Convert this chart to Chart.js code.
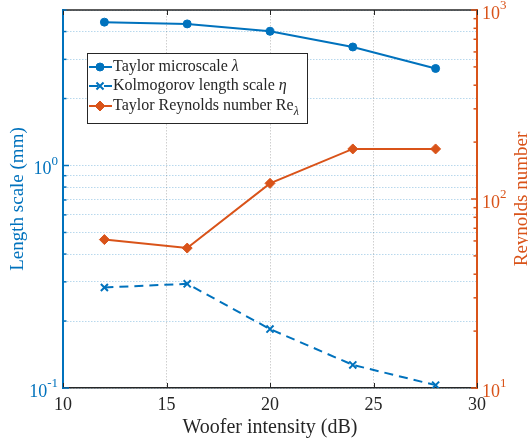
<!DOCTYPE html>
<html>
<head>
<meta charset="utf-8">
<script src="https://cdn.jsdelivr.net/npm/chart.js@4.4.1/dist/chart.umd.min.js"></script>
<style>
  html, body { margin: 0; padding: 0; background: #fff; }
  canvas { display: block; }
</style>
</head>
<body>
<canvas id="chart" width="528" height="441"></canvas>
<script>
// --- data ---
const intensity = [12, 16, 20, 24, 28];                  // dB
const taylorMicroscale = [4.41, 4.33, 4.01, 3.41, 2.73];  // mm
const kolmogorovScale = [0.283, 0.294, 0.184, 0.127, 0.103]; // mm
const taylorReynolds = [61, 55, 121, 184, 184];

const xTicks = [10, 15, 20, 25, 30];
const leftTicks = [0.1, 0.2, 0.3, 0.4, 0.5, 0.6, 0.7, 0.8, 0.9, 1, 2, 3, 4, 5];
const rightTicks = [10, 20, 30, 40, 50, 60, 70, 80, 90, 100, 200, 300, 400, 500, 600, 700, 800, 900, 1000];
const leftDecades = [-1, 0];
const rightDecades = [1, 2, 3];

// legend text pieces: [text, style] where style is '' | 'i' (italic) | 'sub'
const legendLabels = [
  [['Taylor microscale ', ''], ['\u03bb', 'i']],
  [['Kolmogorov length scale ', ''], ['\u03b7', 'i']],
  [['Taylor Reynolds number Re', ''], ['\u03bb', 'sub']]
];

const BLUE = '#0072BD';
const ORANGE = '#D95319';
const DARK = '#262626';
const SERIF = '"Liberation Serif", "Times New Roman", serif';

// draws "10" with a raised exponent
const drawPow = (ctx, exp, x, y, align, color) => {
  ctx.save();
  ctx.fillStyle = color;
  ctx.textBaseline = 'middle';
  ctx.textAlign = 'left';
  ctx.font = '18px ' + SERIF;
  const bw = ctx.measureText('10').width;
  ctx.font = '13px ' + SERIF;
  const e = String(exp);
  const ew = ctx.measureText(e).width;
  const x0 = align === 'right' ? x - bw - ew : x;
  ctx.font = '18px ' + SERIF;
  ctx.fillText('10', x0, y + 4);
  ctx.font = '13px ' + SERIF;
  ctx.fillText(e, x0 + bw, y - 4);
  ctx.restore();
};

const matlabAxes = {
  id: 'matlabAxes',
  afterDraw(chart) {
    const ctx = chart.ctx;
    const a = chart.chartArea;
    const sx = chart.scales.x, sl = chart.scales.y, sr = chart.scales.y1;

    ctx.save();
    // top border
    ctx.strokeStyle = DARK;
    ctx.lineWidth = 1.5;
    ctx.beginPath();
    ctx.moveTo(a.left, a.top);
    ctx.lineTo(a.right, a.top);
    ctx.stroke();

    // x ticks, inward on bottom and top
    ctx.lineWidth = 1;
    xTicks.forEach(v => {
      const px = Math.round(sx.getPixelForValue(v)) + 0.5;
      ctx.beginPath();
      ctx.moveTo(px, a.bottom); ctx.lineTo(px, a.bottom - 5);
      ctx.moveTo(px, a.top); ctx.lineTo(px, a.top + 5);
      ctx.stroke();
    });

    // left ticks
    ctx.strokeStyle = BLUE;
    ctx.lineWidth = 1.5;
    leftTicks.forEach(v => {
      const py = sl.getPixelForValue(v);
      const len = (v === 0.1 || v === 1) ? 6 : 3.5;
      ctx.beginPath();
      ctx.moveTo(a.left, py); ctx.lineTo(a.left + len, py);
      ctx.stroke();
    });
    // right ticks
    ctx.strokeStyle = ORANGE;
    rightTicks.forEach(v => {
      const py = sr.getPixelForValue(v);
      const len = (v === 10 || v === 100 || v === 1000) ? 6 : 3.5;
      ctx.beginPath();
      ctx.moveTo(a.right, py); ctx.lineTo(a.right - len, py);
      ctx.stroke();
    });
    ctx.restore();

    // exponent tick labels
    leftDecades.forEach(d => drawPow(ctx, d, a.left - 5, sl.getPixelForValue(Math.pow(10, d)), 'right', BLUE));
    rightDecades.forEach(d => drawPow(ctx, d, a.right + 5, sr.getPixelForValue(Math.pow(10, d)), 'left', ORANGE));

    // right axis title, reading bottom to top
    ctx.save();
    ctx.translate(522, (a.top + a.bottom) / 2);
    ctx.rotate(-Math.PI / 2);
    ctx.fillStyle = ORANGE;
    ctx.font = '19px ' + SERIF;
    ctx.textAlign = 'center';
    ctx.textBaseline = 'middle';
    ctx.fillText('Reynolds number', 0, 0);
    ctx.restore();

    // legend box
    const bx = 87, by = 53, bw = 220, bh = 70;
    ctx.save();
    ctx.fillStyle = '#fff';
    ctx.fillRect(bx, by, bw, bh);
    ctx.strokeStyle = DARK;
    ctx.lineWidth = 1;
    ctx.strokeRect(bx + 0.5, by + 0.5, bw, bh);
    const rows = [67, 86, 106];
    chart.data.datasets.forEach((ds, i) => {
      const ry = rows[i];
      ctx.save();
      ctx.strokeStyle = ds.borderColor;
      ctx.fillStyle = ds.backgroundColor;
      ctx.lineWidth = ds.borderWidth;
      ctx.setLineDash(ds.borderDash || []);
      ctx.beginPath();
      ctx.moveTo(bx + 2, ry); ctx.lineTo(bx + 25, ry);
      ctx.stroke();
      ctx.setLineDash([]);
      ctx.lineWidth = ds.pointBorderWidth;
      Chart.helpers.drawPoint(ctx, {
        pointStyle: ds.pointStyle, radius: ds.pointRadius, rotation: 0, borderWidth: ds.pointBorderWidth
      }, bx + 13, ry);
      ctx.restore();

      let tx = bx + 26;
      ctx.fillStyle = DARK;
      ctx.textBaseline = 'middle';
      ctx.textAlign = 'left';
      legendLabels[i].forEach(([t, st]) => {
        if (st === 'i') {
          ctx.font = 'italic 16px ' + SERIF;
          ctx.fillText(t, tx, ry);
        } else if (st === 'sub') {
          ctx.font = 'italic 12px ' + SERIF;
          ctx.fillText(t, tx, ry + 6);
        } else {
          ctx.font = '16px ' + SERIF;
          ctx.fillText(t, tx, ry);
        }
        tx += ctx.measureText(t).width;
      });
    });
    ctx.restore();
  }
};

const toPoints = ys => intensity.map((x, i) => ({ x: x, y: ys[i] }));

new Chart(document.getElementById('chart'), {
  type: 'line',
  data: {
    datasets: [
      {
        label: 'Taylor microscale \u03bb',
        data: toPoints(taylorMicroscale),
        yAxisID: 'y',
        borderColor: BLUE,
        backgroundColor: BLUE,
        borderWidth: 2,
        pointStyle: 'circle',
        pointRadius: 4,
        pointBorderWidth: 1
      },
      {
        label: 'Kolmogorov length scale \u03b7',
        data: toPoints(kolmogorovScale),
        yAxisID: 'y',
        borderColor: BLUE,
        backgroundColor: BLUE,
        borderWidth: 2,
        borderDash: [9, 6],
        pointStyle: 'crossRot',
        pointRadius: 5,
        pointBorderWidth: 2
      },
      {
        label: 'Taylor Reynolds number Re\u03bb',
        data: toPoints(taylorReynolds),
        yAxisID: 'y1',
        borderColor: ORANGE,
        backgroundColor: ORANGE,
        borderWidth: 2,
        pointStyle: 'rectRot',
        pointRadius: 5,
        pointBorderWidth: 1
      }
    ]
  },
  options: {
    responsive: false,
    animation: false,
    layout: { padding: { top: 10, left: 0, right: 0, bottom: 0 } },
    plugins: { legend: { display: false }, tooltip: { enabled: false } },
    scales: {
      x: {
        type: 'linear',
        min: 10,
        max: 30,
        afterBuildTicks: s => { s.ticks = xTicks.map(v => ({ value: v })); },
        afterFit: s => { s.height = 53; },
        ticks: {
          color: DARK,
          font: { family: SERIF, size: 18 },
          padding: 6,
          maxRotation: 0,
          autoSkip: false
        },
        grid: { color: 'rgba(38,38,38,0.22)', lineWidth: 1, drawTicks: false },
        border: { color: DARK, width: 1.5, dash: [1.5, 1.5] },
        title: {
          display: true,
          text: 'Woofer intensity (dB)',
          color: DARK,
          font: { family: SERIF, size: 20 },
          padding: { top: 0, bottom: 1 }
        }
      },
      y: {
        type: 'logarithmic',
        position: 'left',
        min: 0.1,
        max: 5,
        afterBuildTicks: s => { s.ticks = leftTicks.map(v => ({ value: v })); },
        afterFit: s => { s.width = 63; },
        ticks: { display: false },
        grid: { color: 'rgba(0,114,189,0.28)', lineWidth: 1, drawTicks: false },
        border: { color: BLUE, width: 2, dash: [1.5, 1.5] },
        title: {
          display: true,
          text: 'Length scale (mm)',
          color: BLUE,
          font: { family: SERIF, size: 19 },
          padding: { top: 7, bottom: 0 }
        }
      },
      y1: {
        type: 'logarithmic',
        position: 'right',
        min: 10,
        max: 1000,
        afterBuildTicks: s => { s.ticks = rightTicks.map(v => ({ value: v })); },
        afterFit: s => { s.width = 51; },
        ticks: { display: false },
        grid: { drawOnChartArea: false, drawTicks: false },
        border: { color: ORANGE, width: 2 }
      }
    }
  },
  plugins: [matlabAxes]
});
</script>
</body>
</html>
